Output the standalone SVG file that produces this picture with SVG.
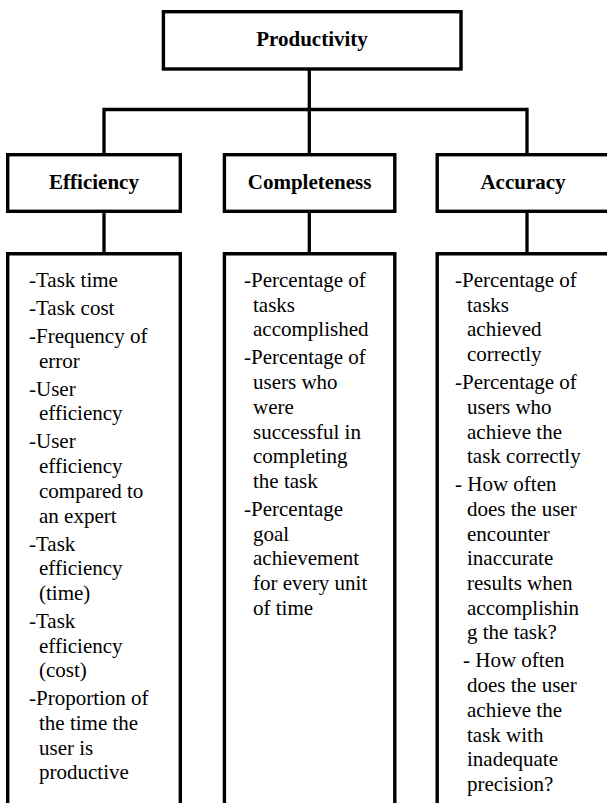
<svg xmlns="http://www.w3.org/2000/svg" width="607" height="803" viewBox="0 0 607 803">
<style>
.box{fill:#fff;stroke:#000;stroke-width:3.4}
.ln{fill:none;stroke:#000;stroke-width:3.3;stroke-linecap:square}
.hd{font-family:'Liberation Serif','Tinos','Times New Roman',Times,'DejaVu Serif','Noto Serif',serif;font-size:21px;font-weight:bold;fill:#000;text-anchor:middle}
.tx{font-family:'Liberation Serif','Tinos','Times New Roman',Times,'DejaVu Serif','Noto Serif',serif;font-size:21px;fill:#000}
</style>
<rect width="607" height="803" fill="#fff"/>
<g id="connectors">
<path class="ln" d="M309.3,71 V109.5 M104,109.5 H527 M104,109.5 V153 M309.3,109.5 V153 M527,109.5 V153"/>
<path class="ln" d="M104,213 V252 M309.3,213 V252 M527,213 V252"/>
</g>
<g id="productivity">
<rect class="box" x="163.4" y="11.7" width="297.6" height="57.3"/>
<text class="hd" x="312" y="46" font-family="Liberation Serif, DejaVu Serif, serif">Productivity</text>
</g>
<g id="efficiency">
<rect class="box" x="7.7" y="154.7" width="172.6" height="56.6"/>
<text class="hd" x="94" y="189">Efficiency</text>
</g>
<g id="completeness">
<rect class="box" x="224.4" y="154.7" width="170.4" height="56.6"/>
<text class="hd" x="309.6" y="189">Completeness</text>
</g>
<g id="accuracy">
<rect class="box" x="437.2" y="154.7" width="173.8" height="56.6"/>
<text class="hd" x="523" y="189">Accuracy</text>
</g>
<g id="efficiency-list">
<path class="box" d="M7.7,815 V253.7 H180.3 V815"/>
<text class="tx">
<tspan x="29" y="287">-Task time</tspan>
<tspan x="29" y="315">-Task cost</tspan>
<tspan x="29" y="343">-Frequency of</tspan>
<tspan x="39" y="367.7">error</tspan>
<tspan x="29" y="395.7">-User</tspan>
<tspan x="39" y="420.4">efficiency</tspan>
<tspan x="29" y="448.4">-User</tspan>
<tspan x="39" y="473.1">efficiency</tspan>
<tspan x="39" y="497.8">compared to</tspan>
<tspan x="39" y="522.5">an expert</tspan>
<tspan x="29" y="550.5">-Task</tspan>
<tspan x="39" y="575.2">efficiency</tspan>
<tspan x="39" y="599.9">(time)</tspan>
<tspan x="29" y="627.9">-Task</tspan>
<tspan x="39" y="652.6">efficiency</tspan>
<tspan x="39" y="677.3">(cost)</tspan>
<tspan x="29" y="705.3">-Proportion of</tspan>
<tspan x="39" y="730">the time the</tspan>
<tspan x="39" y="754.7">user is</tspan>
<tspan x="39" y="779.4">productive</tspan>
</text>
</g>
<g id="completeness-list">
<path class="box" d="M224.4,815 V253.7 H394.8 V815"/>
<text class="tx">
<tspan x="244" y="287">-Percentage of</tspan>
<tspan x="253" y="311.7">tasks</tspan>
<tspan x="253" y="336.4">accomplished</tspan>
<tspan x="244" y="364.4">-Percentage of</tspan>
<tspan x="253" y="389.1">users who</tspan>
<tspan x="253" y="413.8">were</tspan>
<tspan x="253" y="438.5">successful in</tspan>
<tspan x="253" y="463.2">completing</tspan>
<tspan x="253" y="487.9">the task</tspan>
<tspan x="244" y="515.9">-Percentage</tspan>
<tspan x="253" y="540.6">goal</tspan>
<tspan x="253" y="565.3">achievement</tspan>
<tspan x="253" y="590">for every unit</tspan>
<tspan x="253" y="614.7">of time</tspan>
</text>
</g>
<g id="accuracy-list">
<path class="box" d="M437.2,815 V253.7 H611 V815"/>
<text class="tx">
<tspan x="455" y="287">-Percentage of</tspan>
<tspan x="467" y="311.7">tasks</tspan>
<tspan x="467" y="336.4">achieved</tspan>
<tspan x="467" y="361.1">correctly</tspan>
<tspan x="455" y="389.1">-Percentage of</tspan>
<tspan x="467" y="413.8">users who</tspan>
<tspan x="467" y="438.5">achieve the</tspan>
<tspan x="467" y="463.2">task correctly</tspan>
<tspan x="455" y="491.2">- How often</tspan>
<tspan x="467" y="515.9">does the user</tspan>
<tspan x="467" y="540.6">encounter</tspan>
<tspan x="467" y="565.3">inaccurate</tspan>
<tspan x="467" y="590">results when</tspan>
<tspan x="467" y="614.7">accomplishin</tspan>
<tspan x="467" y="639.4">g the task?</tspan>
<tspan x="463" y="667.4">- How often</tspan>
<tspan x="467" y="692.1">does the user</tspan>
<tspan x="467" y="716.8">achieve the</tspan>
<tspan x="467" y="741.5">task with</tspan>
<tspan x="467" y="766.2">inadequate</tspan>
<tspan x="467" y="790.9">precision?</tspan>
</text>
</g>
</svg>
